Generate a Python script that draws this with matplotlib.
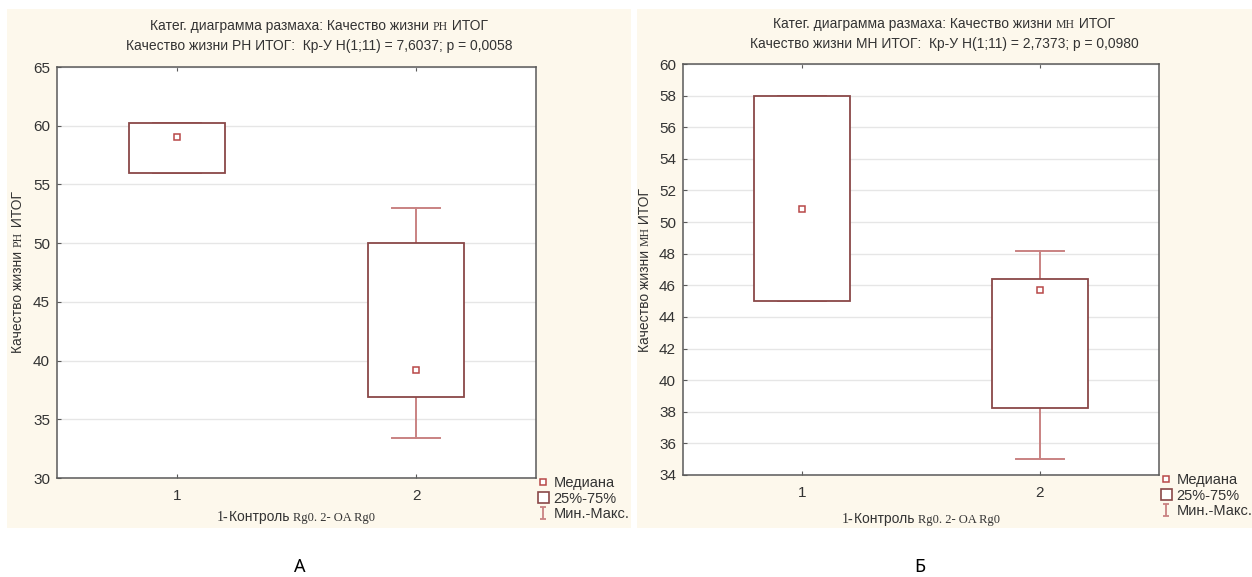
import matplotlib
matplotlib.use('Agg')
import matplotlib.pyplot as plt
from matplotlib import font_manager
from matplotlib.lines import Line2D
from matplotlib.patches import Patch, Rectangle
from matplotlib.path import Path
import numpy as np


def _pick(*names):
    for n in names:
        try:
            font_manager.findfont(n, fallback_to_default=False)
            return n
        except Exception:
            pass
    return 'DejaVu Sans'


SANS = _pick('Liberation Sans Narrow', 'Liberation Sans')
SERIF = _pick('Liberation Serif', 'DejaVu Serif')
LABEL_FONT = _pick('Noto Sans', 'DejaVu Sans')

# Colours
CREAM = '#fdf8ec'
FRAME = '#5a5a5a'
GRID = '#e6e6e6'
BOX_EDGE = '#8a4848'
WHISK = '#c98282'
MED = '#b84848'
TEXT = '#333333'

# Data: group statistics (1 - control Rg0, 2 - OA Rg0)
groups = [1, 2]
group_labels = ['1', '2']

ph_median = [59.05, 39.2]
ph_q1 = [56.0, 36.9]
ph_q3 = [60.2, 50.0]
ph_min = [56.0, 33.4]
ph_max = [60.2, 53.0]

mh_median = [50.8, 45.7]
mh_q1 = [45.0, 38.25]
mh_q3 = [58.0, 46.4]
mh_min = [45.0, 35.0]
mh_max = [58.0, 48.2]

ph_yticks = list(range(30, 66, 5))
mh_yticks = list(range(34, 61, 2))

W, H = 1252, 577
fig = plt.figure(figsize=(W / 100, H / 100), dpi=100, facecolor='white')

# full-figure canvas in pixel units for panels and free text
bg = fig.add_axes([0, 0, 1, 1], zorder=-1)
bg.set_xlim(0, W)
bg.set_ylim(H, 0)
bg.axis('off')
bg.add_patch(Rectangle((7, 9), 624, 519, facecolor=CREAM, edgecolor='none'))
bg.add_patch(Rectangle((637, 9), 615, 519, facecolor=CREAM, edgecolor='none'))


def rich_text(x, y, parts, rotation=0):
    """Chain text pieces with different fonts, then centre the run on (x, y)."""
    texts = []
    for i, (s, fam, size) in enumerate(parts):
        kw = dict(family=fam, fontsize=size, color=TEXT, rotation=rotation)
        if rotation:
            kw.update(ha='right', va='bottom')
        else:
            kw.update(ha='left', va='bottom')
        if i == 0:
            t = bg.text(x, y, s, **kw)
        else:
            t = bg.annotate(s, xy=(1, 1) if rotation else (1, 0),
                            xycoords=texts[-1], **kw)
        texts.append(t)
    r = fig.canvas.get_renderer()
    boxes = [t.get_window_extent(r) for t in texts]
    x0 = min(b.x0 for b in boxes); x1 = max(b.x1 for b in boxes)
    y0 = min(b.y0 for b in boxes); y1 = max(b.y1 for b in boxes)
    cx, cy = (x0 + x1) / 2, (y0 + y1) / 2
    # display y goes up, canvas y goes down
    tx, ty = x, H - y
    texts[0].set_position((x + (tx - cx), y - (ty - cy)))


ibeam = Path([(-0.5, 1), (0.5, 1), (0, 1), (0, -1), (-0.5, -1), (0.5, -1)],
             [Path.MOVETO, Path.LINETO, Path.MOVETO, Path.LINETO,
              Path.MOVETO, Path.LINETO])


def box_panel(rect, med, q1, q3, lo, hi, yticks):
    ax = fig.add_axes(rect)
    stats = []
    for m, a, b, l, h in zip(med, q1, q3, lo, hi):
        stats.append(dict(med=m, mean=m, q1=a, q3=b, whislo=l, whishi=h,
                          fliers=[]))
    parts = ax.bxp(stats, positions=groups, widths=0.4, showmeans=True,
                   showfliers=False, patch_artist=True,
                   boxprops=dict(facecolor='white', edgecolor=BOX_EDGE,
                                 linewidth=1.3),
                   whiskerprops=dict(color=WHISK, linewidth=1.4),
                   capprops=dict(color=WHISK, linewidth=1.4),
                   capwidths=0.2,
                   medianprops=dict(linewidth=0),
                   meanprops=dict(marker='s', markersize=4.5,
                                  markerfacecolor='white',
                                  markeredgecolor=MED, markeredgewidth=1.1))
    # box outline sits above caps that coincide with the quartiles
    for b in parts['boxes']:
        b.set_zorder(3)
    for m in parts['means']:
        m.set_zorder(4)
    ax.set_xlim(0.5, 2.5)
    ax.set_ylim(yticks[0], yticks[-1])
    ax.set_xticks(groups)
    ax.set_xticklabels(group_labels)
    ax.set_yticks(yticks)
    ax.set_axisbelow(True)
    ax.yaxis.grid(True, color=GRID, linewidth=1)
    for sp in ax.spines.values():
        sp.set_color(FRAME)
        sp.set_linewidth(1.1)
    ax.tick_params(axis='y', direction='in', length=3, color=FRAME, pad=5,
                   labelsize=11, labelcolor=TEXT)
    ax.tick_params(axis='x', direction='in', length=3, color=FRAME, pad=8,
                   labelsize=11, labelcolor=TEXT, top=True)
    for lab in ax.get_xticklabels() + ax.get_yticklabels():
        lab.set_family(SANS)
    handles = [
        Line2D([], [], ls='none', marker='s', markersize=4.5,
               markerfacecolor='white', markeredgecolor=MED,
               markeredgewidth=1.1),
        Patch(facecolor='white', edgecolor=BOX_EDGE, linewidth=1.2),
        Line2D([], [], ls='none', marker=ibeam, markersize=8,
               color=WHISK, markeredgewidth=1.3),
    ]
    leg = ax.legend(handles, ['Медиана', '25%-75%', 'Мин.-Макс.'],
                    loc='upper left', bbox_to_anchor=(1.005, 0.005),
                    frameon=False, handlelength=0.7, handleheight=0.8,
                    handletextpad=0.35, labelspacing=0.12, borderpad=0,
                    borderaxespad=0, prop=dict(family=SANS, size=10.5))
    for t in leg.get_texts():
        t.set_color(TEXT)
    return ax


ax_ph = box_panel([57 / W, 1 - 478 / H, 479 / W, 411 / H],
                  ph_median, ph_q1, ph_q3, ph_min, ph_max, ph_yticks)
ax_mh = box_panel([683 / W, 1 - 475 / H, 476 / W, 411 / H],
                  mh_median, mh_q1, mh_q3, mh_min, mh_max, mh_yticks)

# titles
rich_text(319, 26, [('Катег. диаграмма размаха: Качество жизни ', SANS, 10),
                    ('PH', SERIF, 8.5), (' ИТОГ', SANS, 10)])
rich_text(319, 46, [('Качество жизни РН ИТОГ:  Кр-У H(1;11) = 7,6037; p = 0,0058',
                     SANS, 10)])
rich_text(944, 24, [('Катег. диаграмма размаха: Качество жизни ', SANS, 10),
                    ('MH', SERIF, 8.5), (' ИТОГ', SANS, 10)])
rich_text(944, 44, [('Качество жизни МН ИТОГ:  Кр-У H(1;11) = 2,7373; p = 0,0980',
                     SANS, 10)])

# axis labels
rich_text(18, 272, [('Качество жизни ', SANS, 10), ('PH', SERIF, 8.5),
                    (' ИТОГ', SANS, 10)], rotation=90)
rich_text(645, 270, [('Качество жизни ', SANS, 10), ('MH', SERIF, 8.5),
                      (' ИТОГ', SANS, 10)], rotation=90)
xlab = [('1-', SERIF, 10), ('Контроль ', SANS, 10), ('Rg0. 2- OA Rg0', SERIF, 9)]
rich_text(296, 517, xlab)
rich_text(921, 519, xlab)

# panel letters
bg.text(300, 567, 'А', family=LABEL_FONT, fontsize=13, ha='center',
        va='center', color='black')
bg.text(920, 567, 'Б', family=LABEL_FONT, fontsize=13, ha='center',
        va='center', color='black')

fig.savefig('out.png', dpi=100, facecolor='white')
